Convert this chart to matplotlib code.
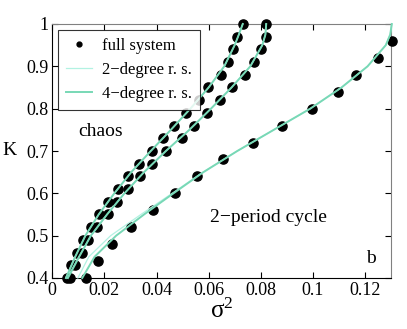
import matplotlib
matplotlib.use("Agg")
import matplotlib.pyplot as plt
from matplotlib.lines import Line2D

plt.rcParams['font.family'] = ['Liberation Serif', 'DejaVu Serif']
plt.rcParams['mathtext.fontset'] = 'custom'
plt.rcParams['mathtext.rm'] = 'Liberation Serif'
plt.rcParams['mathtext.it'] = 'Liberation Serif:italic'

# ---- data: full system (dots) ----
K_dots_a = [0.40, 0.43, 0.46, 0.49, 0.52, 0.55, 0.58, 0.61, 0.64, 0.67, 0.70,
            0.73, 0.76, 0.79, 0.82, 0.85, 0.88, 0.91, 0.94, 0.97, 1.00]
s2_dots_left = [0.0055, 0.0071, 0.0096, 0.0118, 0.0148, 0.0181, 0.0212, 0.0252, 0.0292, 0.0333, 0.0383,
                0.0424, 0.0469, 0.0514, 0.0563, 0.0596, 0.0648, 0.0673, 0.0692, 0.0709, 0.0731]
s2_dots_mid = [0.0068, 0.0087, 0.0113, 0.0136, 0.0171, 0.0212, 0.0248, 0.0292, 0.0337, 0.0384, 0.0436,
               0.0496, 0.0542, 0.0592, 0.0645, 0.0690, 0.0738, 0.0773, 0.0802, 0.0821, 0.0821]
K_dots_b = [0.40, 0.44, 0.48, 0.52, 0.56, 0.60, 0.64, 0.68, 0.72, 0.76, 0.80, 0.84, 0.88, 0.92, 0.96]
s2_dots_right = [0.0130, 0.0177, 0.0228, 0.0303, 0.0386, 0.0472, 0.0555, 0.0655, 0.0771, 0.0882,
                 0.0995, 0.1098, 0.1164, 0.1250, 0.1303]

# ---- data: reduced systems (lines) ----
K_line = [0.40, 0.45, 0.50, 0.55, 0.60, 0.65, 0.70, 0.75, 0.80, 0.85, 0.90, 0.95, 0.975, 1.00]
s2_4deg_left = [0.0053, 0.0088, 0.0127, 0.0178, 0.0238, 0.0303, 0.0378, 0.0455, 0.0530, 0.0600,
                0.0660, 0.0700, 0.0716, 0.0731]
s2_4deg_mid = [0.0060, 0.0103, 0.0148, 0.0210, 0.0277, 0.0352, 0.0436, 0.0526, 0.0609, 0.0688,
               0.0760, 0.0806, 0.0818, 0.0821]
s2_4deg_right = [0.0115, 0.0162, 0.0245, 0.0352, 0.0465, 0.0580, 0.0710, 0.0850, 0.0990, 0.1110,
                 0.1210, 0.1280, 0.1297, 0.1303]
s2_2deg_left = [0.0051, 0.0087, 0.0127, 0.0178, 0.0238, 0.0303, 0.0378, 0.0455, 0.0530, 0.0600,
                0.0660, 0.0700, 0.0716, 0.0731]
s2_2deg_mid = [0.0058, 0.0102, 0.0148, 0.0210, 0.0277, 0.0352, 0.0436, 0.0526, 0.0609, 0.0688,
               0.0760, 0.0806, 0.0818, 0.0821]
s2_2deg_right = [0.0098, 0.0140, 0.0224, 0.0340, 0.0460, 0.0578, 0.0710, 0.0850, 0.0990, 0.1110,
                 0.1210, 0.1280, 0.1297, 0.1303]

xticks = [0, 0.02, 0.04, 0.06, 0.08, 0.1, 0.12]
xticklabels = ['0', '0.02', '0.04', '0.06', '0.08', '0.1', '0.12']
yticks = [0.4, 0.5, 0.6, 0.7, 0.8, 0.9, 1.0]
yticklabels = ['0.4', '0.5', '0.6', '0.7', '0.8', '0.9', '1']

c2 = '#b2f2e2'
c4 = '#78d8b6'

fig = plt.figure(figsize=(4.07, 3.29), dpi=100)
ax = fig.add_axes([52.3 / 407, 1 - 278 / 329, (391 - 52.3) / 407, (278 - 24) / 329])

dot_kw = dict(linestyle='none', marker='o', color='black', markersize=6.6, clip_on=False, zorder=3)
ax.plot(s2_dots_left, K_dots_a, **dot_kw)
ax.plot(s2_dots_mid, K_dots_a, **dot_kw)
ax.plot(s2_dots_right, K_dots_b, **dot_kw)

for xs in (s2_2deg_left, s2_2deg_mid, s2_2deg_right):
    ax.plot(xs, K_line, color=c2, lw=0.9, zorder=4, clip_on=False)
for xs in (s2_4deg_left, s2_4deg_mid, s2_4deg_right):
    ax.plot(xs, K_line, color=c4, lw=1.4, zorder=5, clip_on=False)

ax.set_xlim(0, 0.13)
ax.set_ylim(0.4, 1.0)
ax.set_xticks(xticks)
ax.set_xticklabels(xticklabels)
ax.set_yticks(yticks)
ax.set_yticklabels(yticklabels)
ax.tick_params(direction='in', length=4, width=0.8, top=True, right=True,
               labelsize=13, pad=3)
for t in ax.xaxis.get_ticklines()[1::2]:
    t.set_color('#808080')
for t in ax.yaxis.get_ticklines()[1::2]:
    t.set_color('#808080')
for s in ('top', 'right'):
    ax.spines[s].set_color('#808080')
for s in ('left', 'bottom'):
    ax.spines[s].set_color('black')

ax.set_xlabel(r'$\mathrm{σ}^2$', fontsize=18, labelpad=0)
ax.set_ylabel('K', fontsize=14, rotation=0, labelpad=12, va='center')

ax.text(0.0099, 0.745, 'chaos', fontsize=14, ha='left', va='center')
ax.text(0.083, 0.544, '2\u2212period cycle', fontsize=14, ha='center', va='center')
ax.text(0.1222, 0.435, 'b', fontsize=14, ha='center', va='baseline')

handles = [Line2D([], [], linestyle='none', marker='o', color='black', markersize=3.5),
           Line2D([], [], color=c2, lw=0.9),
           Line2D([], [], color=c4, lw=1.4)]
labels = ['full system', '2\u2212degree r. s.', '4\u2212degree r. s.']
leg = ax.legend(handles, labels, loc='upper left', bbox_to_anchor=(0.0177, 0.976),
                borderaxespad=0, fontsize=12, frameon=True, fancybox=False,
                edgecolor='black', handlelength=1.6, handletextpad=0.6,
                labelspacing=0.5, borderpad=0.45)
leg.get_frame().set_linewidth(0.8)

fig.savefig('out.png', dpi=100)
